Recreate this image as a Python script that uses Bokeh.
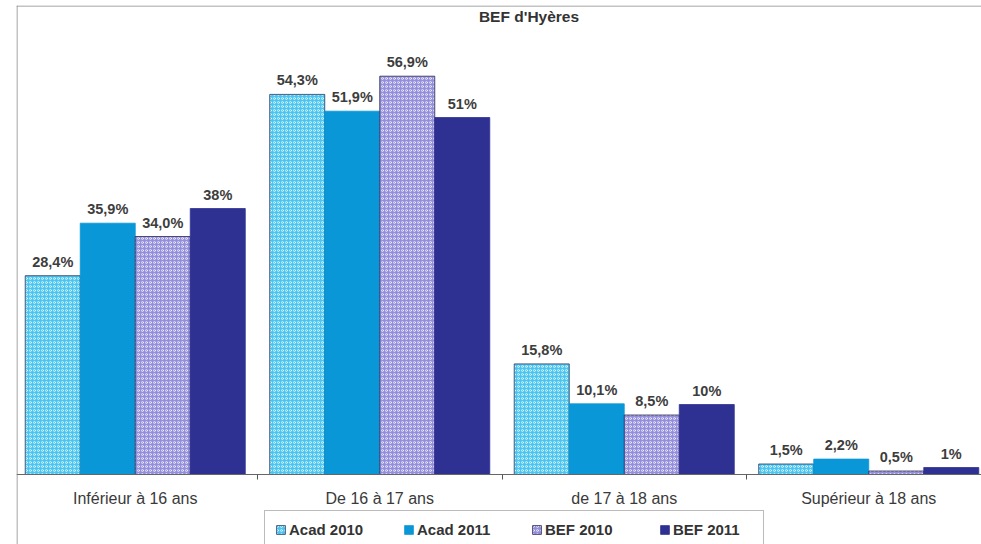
from bokeh.plotting import figure
from bokeh.models import (ColumnDataSource, LinearAxis, FixedTicker, Span, Label, Range1d)
from bokeh.core.properties import value
from bokeh.embed import file_html
from bokeh.resources import INLINE

categories = ["Inférieur à 16 ans", "De 16 à 17 ans", "de 17 à 18 ans", "Supérieur à 18 ans"]
series = ["Acad 2010", "Acad 2011", "BEF 2010", "BEF 2011"]
acad2010 = [28.4, 54.3, 15.8, 1.5]
acad2011 = [35.9, 51.9, 10.1, 2.2]
bef2010 = [34.0, 56.9, 8.5, 0.5]
bef2011 = [38, 51, 10, 1]
lab_acad2010 = ["28,4%", "54,3%", "15,8%", "1,5%"]
lab_acad2011 = ["35,9%", "51,9%", "10,1%", "2,2%"]
lab_bef2010 = ["34,0%", "56,9%", "8,5%", "0,5%"]
lab_bef2011 = ["38%", "51%", "10%", "1%"]

values = [acad2010, acad2011, bef2010, bef2011]
labels = [lab_acad2010, lab_acad2011, lab_bef2010, lab_bef2011]
colors = ["#4cc6f0", "#0a97d8", "#948fdc", "#2e3192"]
hatches = ["ring", None, "ring", None]
line_cols = ["#2a3a60", "#0a97d8", "#2a2a50", "#2e3192"]
offsets = [0.1625, 0.3875, 0.6125, 0.8375]
bar_w = 0.225

W, H = 981, 544
p = figure(width=W, height=H, output_backend="svg", toolbar_location=None,
           x_range=Range1d(0.01431, 3.96115), y_range=Range1d(-10, 67.0),
           min_border_left=16, min_border_right=0, min_border_top=5, min_border_bottom=0,
           x_axis_type=None, y_axis_type=None)
p.grid.visible = False
p.outline_line_color = None
p.background_fill_color = "white"
p.border_fill_color = "white"

for j, (vals, labs) in enumerate(zip(values, labels)):
    xs = [i + offsets[j] for i in range(len(categories))]
    src = ColumnDataSource(dict(x=xs, top=vals, lab=labs))
    kw = {}
    if hatches[j]:
        kw = dict(hatch_pattern=hatches[j], hatch_color="white", hatch_alpha=0.65,
                  hatch_scale=4, hatch_weight=1)
    p.vbar(x="x", top="top", bottom=0, width=bar_w, source=src,
           fill_color=colors[j], line_color=line_cols[j], line_width=0.8,
           legend_label=series[j], **kw)
    p.text(x="x", y="top", text="lab", source=src, y_offset=-6,
           text_align="center", text_baseline="bottom",
           text_font=value("Liberation Sans"), text_font_style="bold",
           text_font_size="14.5px", text_color="#3d3d3d")

ax = LinearAxis(fixed_location=0,
                ticker=FixedTicker(ticks=[0.5, 1.5, 2.5, 3.5], minor_ticks=[1, 2, 3]))
ax.major_label_overrides = {0.5: categories[0], 1.5: categories[1],
                            2.5: categories[2], 3.5: categories[3]}
ax.major_tick_out = 0
ax.major_tick_in = 0
ax.minor_tick_out = 5
ax.minor_tick_in = 0
ax.minor_tick_line_color = "#555555"
ax.axis_line_color = "#666666"
ax.axis_line_width = 1
ax.major_label_text_font = "Liberation Sans"
ax.major_label_text_font_size = "16px"
ax.major_label_text_color = "#3a3a3a"
ax.major_label_standoff = 10
p.add_layout(ax, "below")

# chart frame (left and top edges)
p.add_layout(Span(location=(16.5 - 12.5) / 244.5, dimension="height",
                  line_color="#888888", line_width=1))
p.add_layout(Span(location=(474 - 5.5) / 7.0, dimension="width",
                  line_color="#888888", line_width=1))

p.add_layout(Label(x=(528.5 - 12.5) / 244.5, y=(474 - 16) / 7.0, text="BEF d'Hyères",
                   text_align="center", text_baseline="middle",
                   text_font="Liberation Sans", text_font_style="bold",
                   text_font_size="15.5px", text_color="#333333"))

lg = p.legend[0]
lg.orientation = "horizontal"
lg.location = (248, -5)
lg.label_text_font = "Liberation Sans"
lg.label_text_font_style = "bold"
lg.label_text_font_size = "15px"
lg.label_text_color = "#333333"
lg.glyph_width = 11
lg.glyph_height = 11
lg.label_standoff = 3
lg.label_width = 80
lg.spacing = 34
lg.padding = 10
lg.margin = 0
lg.border_line_color = "#777777"
lg.border_line_width = 1
lg.background_fill_alpha = 1
lg.label_height = 16

open("out.html", "w").write(file_html(p, INLINE))
